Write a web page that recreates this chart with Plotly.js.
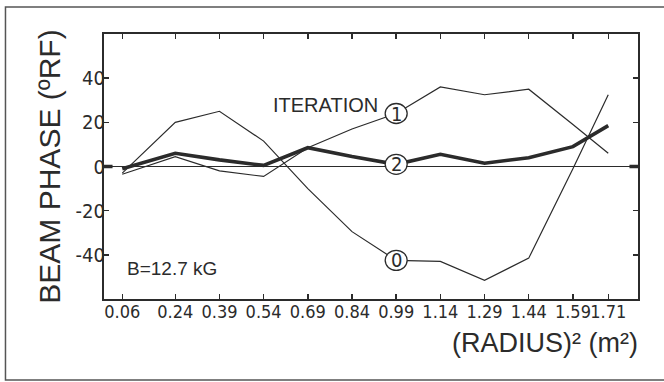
<!DOCTYPE html>
<html>
<head>
<meta charset="utf-8">
<script src="https://cdn.plot.ly/plotly-3.0.1.min.js"></script>
<style>
  html, body { margin: 0; padding: 0; background: #ffffff; }
  #chart { width: 664px; height: 382px; }
</style>
</head>
<body>
<div id="chart"></div>
<script>
// Data
const radiusSq = [0.06, 0.24, 0.39, 0.54, 0.69, 0.84, 0.99, 1.14, 1.29, 1.44, 1.59, 1.71];
const tickLabels = ["0.06", "0.24", "0.39", "0.54", "0.69", "0.84", "0.99", "1.14", "1.29", "1.44", "1.59", "1.71"];
const iteration0 = [-3, 20, 25, 11.5, -10, -29.5, -42.5, -43, -51.5, -41.5, -1, 32.5];
const iteration1 = [-3.5, 4.5, -2, -4.5, 8.5, 17, 24, 36, 32.5, 35, 19, 6];
const iteration2 = [-1, 6, 3, 0.5, 8.5, 4.5, 1, 5.5, 1.5, 4, 9, 18.5];
const yTicks = [-40, -20, 0, 20, 40];
const yTickLabels = ["-40", "-20", "0", "20", "40"];
const labelIndex = 6; // circled labels sit at R^2 = 0.99

const ink = '#2b2b2b';
const font = 'Liberation Sans, Arial, sans-serif';
const narrow = 'Liberation Sans Narrow, DejaVu Sans Condensed, Arial Narrow, sans-serif';

const traces = [
  {x: radiusSq, y: iteration0, mode: 'lines', name: '0', line: {color: ink, width: 1.2}},
  {x: radiusSq, y: iteration1, mode: 'lines', name: '1', line: {color: ink, width: 1.2}},
  {x: radiusSq, y: iteration2, mode: 'lines', name: '2', line: {color: ink, width: 3.6}}
];

const series = [['0', iteration0], ['1', iteration1], ['2', iteration2]];
const shapes = [];
const annotations = [];

// outer frame
shapes.push({type: 'rect', xref: 'paper', yref: 'paper', x0: -0.1845, x1: 1.12, y0: -0.3057, y1: 1.1019,
  line: {color: '#555', width: 1.5}, fillcolor: 'rgba(0,0,0,0)', layer: 'below'});
// thick marks at zero on both sides
shapes.push({type: 'line', xref: 'paper', yref: 'y', x0: 0, x1: 0.016, y0: 0, y1: 0, line: {color: ink, width: 3.5}});
shapes.push({type: 'line', xref: 'paper', yref: 'y', x0: 0.984, x1: 1, y0: 0, y1: 0, line: {color: ink, width: 3.5}});

series.forEach(([lab, arr]) => {
  shapes.push({type: 'circle', xref: 'x', yref: 'y', xsizemode: 'pixel', ysizemode: 'pixel',
    xanchor: radiusSq[labelIndex], yanchor: arr[labelIndex], x0: -11, x1: 11, y0: -10, y1: 10,
    fillcolor: '#ffffff', line: {color: ink, width: 1.3}});
  annotations.push({x: radiusSq[labelIndex], y: arr[labelIndex], xref: 'x', yref: 'y', text: lab,
    showarrow: false, font: {family: narrow, size: 20, color: ink}, xanchor: 'center', yanchor: 'middle'});
});

annotations.push({x: 0.935, y: 28, xref: 'x', yref: 'y', text: 'ITERATION', showarrow: false,
  xanchor: 'right', yanchor: 'middle', font: {family: font, size: 20, color: ink}});
annotations.push({x: 0.069, y: -46, xref: 'x', yref: 'y', text: 'B=12.7 kG', showarrow: false,
  xanchor: 'left', yanchor: 'middle', font: {family: font, size: 19, color: ink}});
annotations.push({x: 1.004, y: -0.165, xref: 'paper', yref: 'paper', text: '(RADIUS)² (m²)', showarrow: false,
  xanchor: 'right', yanchor: 'middle', font: {family: font, size: 27, color: ink}});

const layout = {
  width: 664, height: 382,
  margin: {l: 104, r: 26, t: 34, b: 83, pad: 0},
  paper_bgcolor: '#ffffff', plot_bgcolor: '#ffffff',
  showlegend: false,
  xaxis: {
    range: [-0.002, 1.811], tickmode: 'array', tickvals: radiusSq, ticktext: tickLabels, tickangle: 0,
    ticks: 'inside', ticklen: 5, tickwidth: 1.5, tickcolor: ink,
    showline: true, linecolor: ink, linewidth: 2, mirror: 'allticks',
    showgrid: false, zeroline: false, ticklabelstandoff: -5,
    tickfont: {family: narrow, size: 18, color: ink}
  },
  yaxis: {
    range: [-60, 60], tickmode: 'array', tickvals: yTicks, ticktext: yTickLabels,
    ticks: 'inside', ticklen: 5, tickwidth: 1.5, tickcolor: ink,
    showline: true, linecolor: ink, linewidth: 2, mirror: 'allticks',
    showgrid: false, zeroline: true, zerolinecolor: ink, zerolinewidth: 1.5, ticklabelstandoff: -7,
    tickfont: {family: narrow, size: 20, color: ink},
    title: {text: 'BEAM PHASE (ºRF)', font: {family: font, size: 30, color: ink}, standoff: 6}
  },
  shapes: shapes,
  annotations: annotations
};

Plotly.newPlot('chart', traces, layout, {displayModeBar: false, staticPlot: true});
</script>
</body>
</html>
